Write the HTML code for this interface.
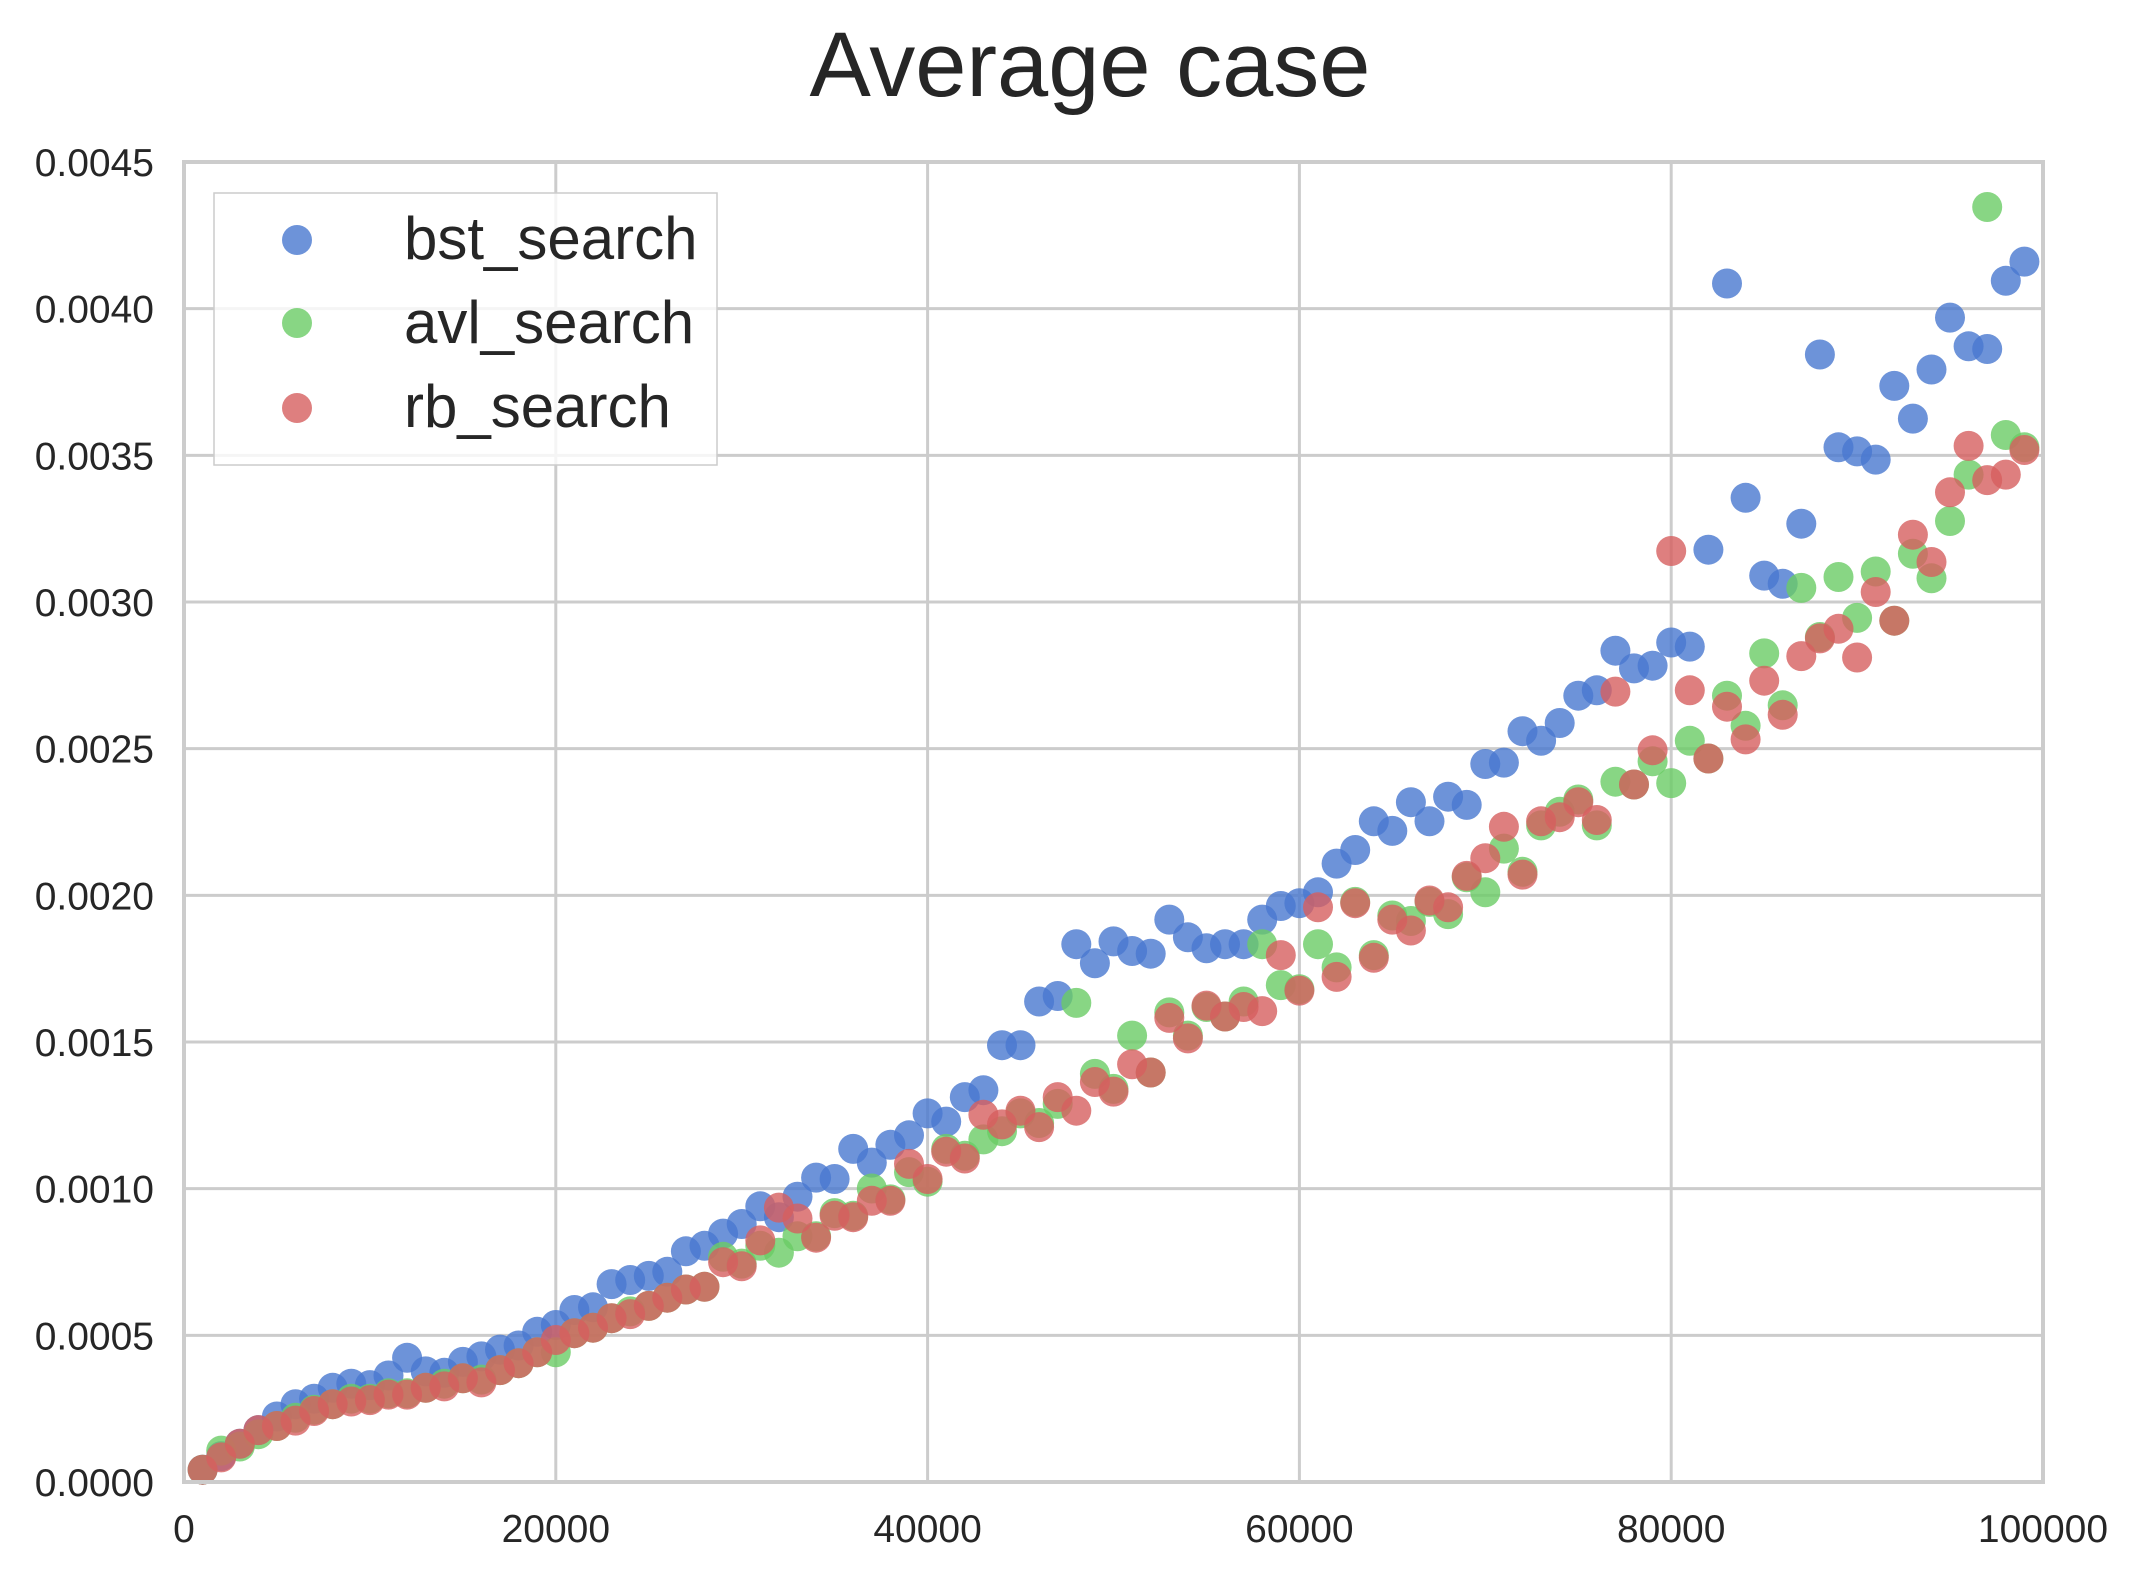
<!DOCTYPE html>
<html><head><meta charset="utf-8"><style>
html,body{margin:0;padding:0;background:#fff;}
svg{display:block;font-family:"Liberation Sans",sans-serif;}
</style></head><body>
<svg id="s" width="2140" height="1581" viewBox="0 0 2140 1581" xmlns="http://www.w3.org/2000/svg">
<rect width="2140" height="1581" fill="#fff"/>
<g id="grid" stroke="#cccccc" stroke-width="3"></g>
<g id="ticks" fill="#262626" font-size="39"></g>
<text x="1090" y="96" text-anchor="middle" font-size="92" fill="#262626">Average case</text>
<g id="pts"></g>
<rect x="184" y="162" width="1859" height="1320" fill="none" stroke="#cccccc" stroke-width="4"/>
<g id="legend">
<rect x="214" y="193" width="503" height="272" fill="#fff" fill-opacity="0.8" stroke="#cccccc" stroke-width="1.5"/>
<circle cx="297" cy="240" r="15" fill="#4878cf" fill-opacity="0.8"/>
<circle cx="297" cy="323" r="15" fill="#6acc65" fill-opacity="0.8"/>
<circle cx="297" cy="408" r="15" fill="#d65f5f" fill-opacity="0.8"/>
<text x="404" y="259" font-size="60" fill="#262626">bst_search</text>
<text x="404" y="343" font-size="60" fill="#262626">avl_search</text>
<text x="404" y="427" font-size="60" fill="#262626">rb_search</text>
</g>
</svg>
<script>
var L=184,R=2043,T=162,B=1482,NS="http://www.w3.org/2000/svg";
function el(p,t,a,txt){var e=document.createElementNS(NS,t);for(var k in a)e.setAttribute(k,a[k]);if(txt!=null)e.textContent=txt;p.appendChild(e);return e;}
var g=document.getElementById('grid'),tk=document.getElementById('ticks');
for(var i=0;i<=9;i++){var y=B-(B-T)*i/9;el(g,'line',{x1:L,x2:R,y1:y,y2:y});el(tk,'text',{x:154,y:y+14,'text-anchor':'end'},(i*0.0005).toFixed(4));}
for(var i=0;i<=5;i++){var x=L+(R-L)*i/5;el(g,'line',{x1:x,x2:x,y1:T,y2:B});el(tk,'text',{x:x,y:1542,'text-anchor':'middle'},String(i*20000));}
var blue=[1076,1066,1057,1047,1037,1028,1024,1016,1013,1014,1007,994,1004,1005,997,993,988,985,975,970,959,957,940,937,934,931,916,912,903,896,883,891,876,862,863,841,851,838,831,815,821,803,798,765,765,733,729,691,705,689,696,698,673,686,694,691,691,673,663,661,653,632,622,601,608,587,601,583,589,559,558,535,542,529,509,505,476,489,487,470,473,402,207,364,421,427,383,259,327,330,336,282,306,270,232,253,255,205,191];
var green=[1076,1062,1059,1050,1044,1038,1032,1028,1024,1024,1020,1020,1016,1013,1009,1010,1003,998,990,990,976,972,965,960,956,950,944,942,920,925,912,917,905,905,888,890,870,878,858,865,841,846,834,828,815,822,808,734,786,797,758,785,741,758,737,744,733,691,721,724,691,708,660,699,670,674,660,669,642,653,621,638,604,594,585,604,572,574,557,573,542,555,509,531,478,516,430,466,422,452,418,454,405,423,381,347,151,318,327];
var red=[1076,1067,1057,1047,1044,1040,1033,1028,1026,1025,1021,1021,1016,1015,1009,1012,1003,998,990,981,976,972,965,962,956,950,944,942,924,927,908,884,892,906,890,891,879,879,852,863,843,848,816,823,813,825,803,813,792,799,779,785,745,760,736,744,737,740,699,725,664,715,661,701,673,681,659,664,641,628,605,640,601,598,587,600,506,574,549,403,505,555,517,541,498,523,480,467,460,481,433,454,391,411,360,326,351,347,329];
var pg=document.getElementById('pts');
[[blue,'#4878cf'],[green,'#6acc65'],[red,'#d65f5f']].forEach(function(s){
 s[0].forEach(function(dy,i){var x=L+(R-L)*(i+1)/100;var y=T+(dy-118)*(B-T)/967;
  el(pg,'circle',{cx:x.toFixed(1),cy:y.toFixed(1),r:15,fill:s[1],'fill-opacity':0.8});});
});
</script>
</body></html>
